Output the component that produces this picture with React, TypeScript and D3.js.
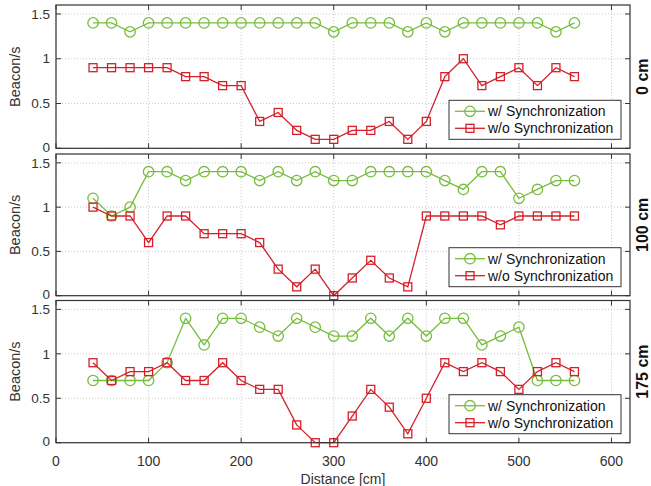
import React from 'react';
import * as d3 from 'd3';

const width = 651;
const height = 486;
const left = 56;
const right = 630;
const panelTops = [5, 154, 300.5];
const panelHeights = [143.3, 141.7, 142.2];

const green = '#77bd3c';
const red = '#d5202a';
const frame = '#333333';

const distances = [40, 60, 80, 100, 120, 140, 160, 180, 200, 220, 240, 260, 280, 300,
  320, 340, 360, 380, 400, 420, 440, 460, 480, 500, 520, 540, 560];

const labels = ['0 cm', '100 cm', '175 cm'];

const sync0 = [1.4, 1.4, 1.3, 1.4, 1.4, 1.4, 1.4, 1.4, 1.4, 1.4, 1.4, 1.4, 1.4, 1.3,
  1.4, 1.4, 1.4, 1.3, 1.4, 1.3, 1.4, 1.4, 1.4, 1.4, 1.4, 1.3, 1.4];
const nosync0 = [0.9, 0.9, 0.9, 0.9, 0.9, 0.8, 0.8, 0.7, 0.7, 0.3, 0.4, 0.2, 0.1, 0.1,
  0.2, 0.2, 0.3, 0.1, 0.3, 0.8, 1.0, 0.7, 0.8, 0.9, 0.7, 0.9, 0.8];

const sync100 = [1.1, 0.9, 1.0, 1.4, 1.4, 1.3, 1.4, 1.4, 1.4, 1.3, 1.4, 1.3, 1.4, 1.3,
  1.3, 1.4, 1.4, 1.4, 1.4, 1.3, 1.2, 1.4, 1.4, 1.1, 1.2, 1.3, 1.3];
const nosync100 = [1.0, 0.9, 0.9, 0.6, 0.9, 0.9, 0.7, 0.7, 0.7, 0.6, 0.3, 0.1, 0.3, 0.0,
  0.2, 0.4, 0.2, 0.1, 0.9, 0.9, 0.9, 0.9, 0.8, 0.9, 0.9, 0.9, 0.9];

const sync175 = [0.7, 0.7, 0.7, 0.7, 0.9, 1.4, 1.1, 1.4, 1.4, 1.3, 1.2, 1.4, 1.3, 1.2,
  1.2, 1.4, 1.2, 1.4, 1.2, 1.4, 1.4, 1.1, 1.2, 1.3, 0.7, 0.7, 0.7];
const nosync175 = [0.9, 0.7, 0.8, 0.8, 0.9, 0.7, 0.7, 0.9, 0.7, 0.6, 0.6, 0.2, 0.0, 0.0,
  0.3, 0.6, 0.4, 0.1, 0.5, 0.9, 0.8, 0.9, 0.8, 0.6, 0.8, 0.9, 0.8];

const syncSeries = [sync0, sync100, sync175];
const nosyncSeries = [nosync0, nosync100, nosync175];

const xTicks = [0, 100, 200, 300, 400, 500, 600];
const yTicks = [0, 0.5, 1, 1.5];

const x = d3.scaleLinear().domain([0, 620]).range([left, right]);

const font = '"Liberation Sans", Arial, sans-serif';

const Panel = ({ idx }: { idx: number }) => {
  const top = panelTops[idx];
  const panelHeight = panelHeights[idx];
  const bottom = top + panelHeight;
  const y = d3.scaleLinear().domain([0, 1.6]).range([bottom, top]);
  const line = d3.line<number>().x((d, i) => x(distances[i])).y(d => y(d));
  const sync = syncSeries[idx];
  const nosync = nosyncSeries[idx];
  const lx = 449, lw = 172, lh = 39;
  const ly = bottom - 9 - lh;
  const tick = 5;
  return (
    <g>
      {xTicks.map(t => (
        <line key={'gx' + t} x1={x(t)} x2={x(t)} y1={top} y2={bottom}
          stroke="#c8c8c8" strokeWidth={1} strokeDasharray="1,2" />
      ))}
      {yTicks.map(t => (
        <line key={'gy' + t} x1={left} x2={right} y1={y(t)} y2={y(t)}
          stroke="#c8c8c8" strokeWidth={1} strokeDasharray="1,2" />
      ))}
      <path d={line(sync) || ''} fill="none" stroke={green} strokeWidth={1.3} />
      {sync.map((v, i) => (
        <circle key={'c' + i} cx={x(distances[i])} cy={y(v)} r={5.2}
          fill="none" stroke={green} strokeWidth={1.3} />
      ))}
      <path d={line(nosync) || ''} fill="none" stroke={red} strokeWidth={1.3} />
      {nosync.map((v, i) => (
        <rect key={'s' + i} x={x(distances[i]) - 4} y={y(v) - 4} width={8} height={8}
          fill="none" stroke={red} strokeWidth={1.3} />
      ))}
      <rect x={left} y={top} width={right - left} height={panelHeight}
        fill="none" stroke={frame} strokeWidth={1.2} />
      {xTicks.map(t => (
        <g key={'tx' + t}>
          <line x1={x(t)} x2={x(t)} y1={bottom} y2={bottom - tick} stroke={frame} />
          <line x1={x(t)} x2={x(t)} y1={top} y2={top + tick} stroke={frame} />
        </g>
      ))}
      {yTicks.map(t => (
        <g key={'ty' + t}>
          <line x1={left} x2={left + tick} y1={y(t)} y2={y(t)} stroke={frame} />
          <line x1={right} x2={right - tick} y1={y(t)} y2={y(t)} stroke={frame} />
          <text x={left - 6} y={y(t) - (t === 0 ? 1 : 0)} dy="0.35em" textAnchor="end" fontSize={13.5}
            fill="#333" fontFamily={font}>{t}</text>
        </g>
      ))}
      <text transform={`translate(15,${(top + bottom) / 2}) rotate(-90)`} textAnchor="middle"
        dy="0.35em" fontSize={14.5} fill="#333" fontFamily={font}>Beacon/s</text>
      <text transform={`translate(642,${(top + bottom) / 2}) rotate(-90)`} textAnchor="middle"
        dy="0.35em" fontSize={16} fontWeight="bold" fill="#111" fontFamily={font}>{labels[idx]}</text>
      <g>
        <rect x={lx} y={ly} width={lw} height={lh} fill="white" stroke={frame} strokeWidth={1} />
        <line x1={lx + 6} x2={lx + 36} y1={ly + 11} y2={ly + 11} stroke={green} strokeWidth={1.3} />
        <circle cx={lx + 21} cy={ly + 11} r={5.2} fill="none" stroke={green} strokeWidth={1.3} />
        <text x={lx + 39} y={ly + 11} dy="0.35em" fontSize={14} fill="#111" fontFamily={font}>w/ Synchronization</text>
        <line x1={lx + 6} x2={lx + 36} y1={ly + 28} y2={ly + 28} stroke={red} strokeWidth={1.3} />
        <rect x={lx + 17} y={ly + 24} width={8} height={8} fill="none" stroke={red} strokeWidth={1.3} />
        <text x={lx + 39} y={ly + 28} dy="0.35em" fontSize={14} fill="#111" fontFamily={font}>w/o Synchronization</text>
      </g>
    </g>
  );
};

const App = () => {
  const bottom = panelTops[2] + panelHeights[2];
  return (
    <svg width={width} height={height} style={{ position: 'absolute', left: 0, top: 0 }}>
      <rect width={width} height={height} fill="white" />
      {[0, 1, 2].map(i => <Panel key={i} idx={i} />)}
      {xTicks.map(t => (
        <text key={'xl' + t} x={x(t)} y={bottom + 18} dy="0.35em" textAnchor="middle" fontSize={14}
          fill="#333" fontFamily={font}>{t}</text>
      ))}
      <text x={(left + right) / 2} y={bottom + 36} dy="0.35em" textAnchor="middle" fontSize={14}
        fill="#333" fontFamily={font}>Distance [cm]</text>
    </svg>
  );
};

export default App;
